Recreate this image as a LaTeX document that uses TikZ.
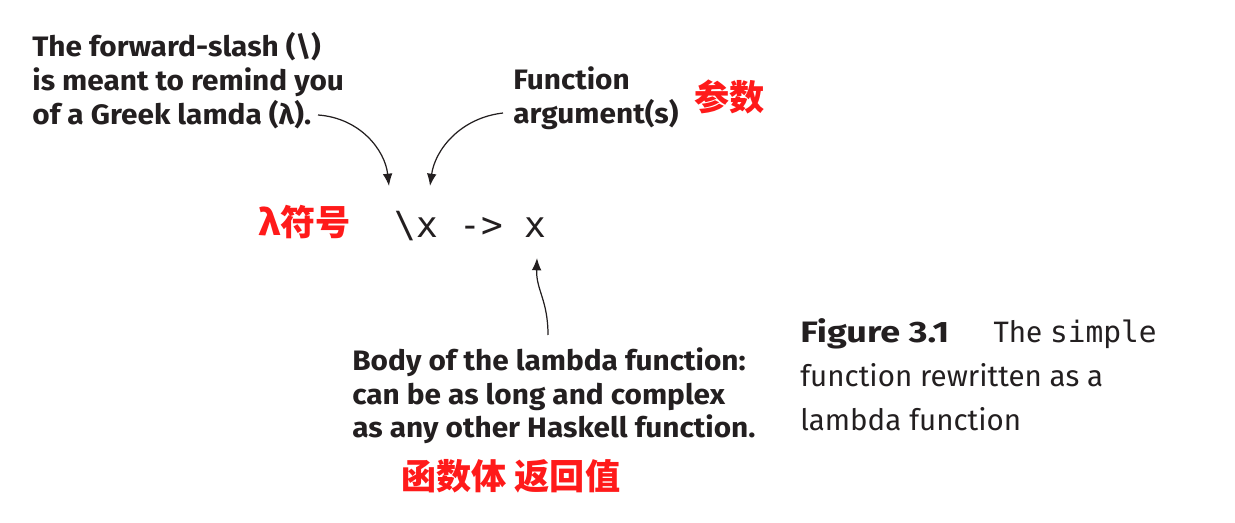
\documentclass[tikz,border=0pt]{standalone}
\usepackage{fontspec}
\setmainfont{Fira Sans}
\setmonofont{DejaVu Sans Mono}
\newfontfamily\notefont{Fira Sans}[FakeStretch=1.06]
\newfontfamily\figfont{Fira Sans}[FakeStretch=1.22]
\newfontfamily\cjk{Noto Sans CJK SC}
\usetikzlibrary{positioning, arrows.meta}
\definecolor{ink}{HTML}{231F20}
\definecolor{cnred}{HTML}{FF1A1A}

\begin{document}
\begin{tikzpicture}[
  x=0.02cm, y=-0.02cm,
  note/.style={align=left, anchor=north west, inner sep=0pt, text=ink, font=\fontsize{16}{19.3}\selectfont\notefont\bfseries},
  cnnote/.style={anchor=base west, inner sep=0pt, text=cnred, font=\fontsize{20}{24}\selectfont\cjk\bfseries},
  code/.style={anchor=base west, inner sep=0pt, text=ink, font=\fontsize{20.5}{24}\selectfont\ttfamily},
  caption/.style={align=left, anchor=north west, inner sep=0pt, text=ink, font=\fontsize{16.8}{25}\selectfont},
  arrow/.style={-{Latex[length=7pt, width=5.5pt]}, line width=0.7pt, ink}
]
\useasboundingbox (0,0) rectangle (1235,523);

% Nodes
\node[note] (slash) at (32,32) {The forward-slash (\textbackslash)\\is meant to remind you\\of a Greek lamda (λ).};
\node[note] (arg) at (513,66) {Function\\argument(s)};
\node[code] (lam) at (394,238) {\textbackslash x -> x};
\node[cnnote] (lamcn) at (258,236) {λ符号};
\node[cnnote] (argcn) at (694,111) {参数};
\node[note] (body) at (352,347) {Body of the lambda function:\\can be as long and complex\\as any other Haskell function.};
\node[cnnote] (bodycn) at (401,490) {函数体 返回值};
\node[caption] (cap) at (800,318) {{\figfont\bfseries Figure 3.1}\hspace{1.5em}The \texttt{simple}\\function rewritten as a\\lambda function};

% Ends of the lines
\coordinate (slashend) at (318,115);
\coordinate (slashtip) at (389,186);
\coordinate (argend) at (503,113);
\coordinate (argtip) at (430,186);
\coordinate (bodyend) at (548,335);
\coordinate (bodytip) at (537,258);

% Lines
\draw[arrow] (slashend) .. controls (360,118) and (385,150) .. (slashtip);
\draw[arrow] (argend) .. controls (460,118) and (435,150) .. (argtip);
\draw[arrow] (bodyend) .. controls (548,300) and (536,290) .. (bodytip);

\end{tikzpicture}
\end{document}
